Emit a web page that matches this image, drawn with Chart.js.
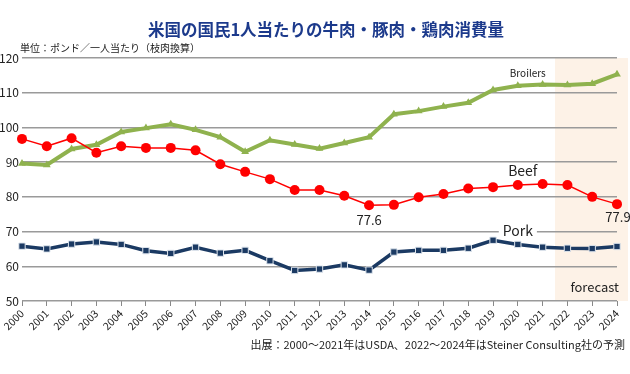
<!DOCTYPE html>
<html>
<head>
<meta charset="utf-8">
<script src="https://cdn.jsdelivr.net/npm/chart.js@4"></script>
<style>
  html,body{margin:0;padding:0;background:#fff;}
  #wrap{position:relative;width:630px;height:374px;overflow:hidden;font-family:"Noto Sans CJK JP","Noto Sans",sans-serif;}
  #chart{position:absolute;left:0;top:0;}
  .title{position:absolute;left:0;width:652px;top:17px;text-align:center;font-size:16.5px;font-weight:700;color:#1c3a8c;}
  .unit{position:absolute;left:20px;top:40px;font-size:10px;color:#222;}
  .src{position:absolute;right:5px;top:336px;font-size:11px;color:#222;}
</style>
</head>
<body>
<div id="wrap">
  <canvas id="chart" width="630" height="374"></canvas>
  <div class="title">米国の国民1人当たりの牛肉・豚肉・鶏肉消費量</div>
  <div class="unit">単位：ポンド／一人当たり（枝肉換算）</div>
  <div class="src">出展：2000～2021年はUSDA、2022～2024年はSteiner Consulting社の予測</div>
</div>
<script>
const years = ['2000','2001','2002','2003','2004','2005','2006','2007','2008','2009','2010','2011','2012',
  '2013','2014','2015','2016','2017','2018','2019','2020','2021','2022','2023','2024'];
const broilers = [89.6,89.2,93.8,95.0,98.7,99.8,100.9,99.3,97.2,93.0,96.3,95.1,93.9,
  95.5,97.2,103.8,104.7,106.0,107.1,110.8,112.0,112.4,112.2,112.6,115.3];
const beef = [96.7,94.6,96.9,92.7,94.6,94.1,94.1,93.4,89.4,87.2,85.1,82.0,82.0,
  80.3,77.6,77.7,79.9,80.8,82.4,82.8,83.4,83.7,83.4,80.0,77.9];
const pork = [65.8,65.0,66.4,67.0,66.3,64.5,63.7,65.5,63.8,64.6,61.6,58.8,59.2,
  60.4,58.9,64.1,64.6,64.6,65.2,67.5,66.3,65.5,65.2,65.1,65.7];
const yTicks = [50,60,70,80,90,100,110,120];
const forecastFrom = '2022';

const FONT = '"Noto Sans CJK JP","Noto Sans",sans-serif';

// forecast background, behind grid
const shadePlugin = {
  id:'shade',
  beforeDraw(chart){
    const {ctx, chartArea, scales:{x}} = chart;
    const i = years.indexOf(forecastFrom);
    const left = (x.getPixelForValue(i-1) + x.getPixelForValue(i)) / 2;
    ctx.save();
    ctx.fillStyle = '#fdf2e7';
    ctx.fillRect(left, chartArea.top, chart.width - 2 - left, chartArea.bottom - chartArea.top);
    ctx.restore();
  }
};

// series names and value notes
const notesPlugin = {
  id:'notes',
  afterDatasetsDraw(chart){
    const {ctx, scales:{x,y}} = chart;
    ctx.save();
    ctx.fillStyle = '#222';
    ctx.textAlign = 'center';
    ctx.textBaseline = 'middle';

    ctx.font = '10px ' + FONT;
    ctx.fillText('Broilers', x.getPixelForValue(20.4), y.getPixelForValue(115.6));

    ctx.font = '14px ' + FONT;
    ctx.fillText('Beef', x.getPixelForValue(20.2), y.getPixelForValue(87.5));

    // pork label sits on the 70 gridline
    const px = x.getPixelForValue(20), py = y.getPixelForValue(70) - 1;
    const w = ctx.measureText('Pork').width + 8;
    ctx.fillStyle = '#fff';
    ctx.fillRect(px - w/2, py - 9, w, 16);
    ctx.fillStyle = '#222';
    ctx.fillText('Pork', px, py);

    ctx.font = '13px ' + FONT;
    const i14 = years.indexOf('2014');
    ctx.fillText(String(beef[i14]), x.getPixelForValue(i14), y.getPixelForValue(beef[i14]) + 15);
    const last = years.length - 1;
    ctx.fillText(String(beef[last]), x.getPixelForValue(last) + 1, y.getPixelForValue(beef[last]) + 13);

    ctx.fillText('forecast', x.getPixelForValue(23.1), y.getPixelForValue(54));
    ctx.restore();
  }
};

new Chart(document.getElementById('chart'), {
  type:'line',
  data:{
    labels: years,
    datasets:[
      {label:'Pork', data:pork, borderColor:'#1b3a63', backgroundColor:'#1b3a63', borderWidth:3.5,
       pointStyle:'rect', pointRadius:4.5, pointBorderColor:'#dfe6ee', pointBorderWidth:1, tension:0},
      {label:'Beef', data:beef, borderColor:'#ff0000', backgroundColor:'#ff0000', borderWidth:1.5,
       pointStyle:'circle', pointRadius:5, pointBorderWidth:0, tension:0},
      {label:'Broilers', data:broilers, borderColor:'#8fb24e', backgroundColor:'#8fb24e', borderWidth:4,
       pointStyle:'triangle', pointRadius:4.5, pointBorderWidth:0, tension:0}
    ]
  },
  options:{
    responsive:false,
    animation:false,
    layout:{padding:{left:0, right:13, top:58, bottom:0}},
    plugins:{legend:{display:false}, tooltip:{enabled:false}},
    scales:{
      x:{
        offset:false,
        grid:{drawOnChartArea:false, drawTicks:true, tickLength:5, color:'#888', lineWidth:1},
        border:{display:false},
        ticks:{color:'#222', font:{size:10.5, family:FONT}, maxRotation:45, minRotation:45, autoSkip:false, padding:1},
        afterFit(s){ s.height = 73; }
      },
      y:{
        min:50, max:120,
        afterBuildTicks(s){ s.ticks = yTicks.map(v => ({value:v})); },
        grid:{color:'#9a9a9a', lineWidth:1.5, drawTicks:false},
        border:{display:false},
        ticks:{color:'#222', font:{size:12, family:FONT}, padding:3},
        afterFit(s){ s.width = 22; }
      }
    }
  },
  plugins:[shadePlugin, notesPlugin]
});
</script>
</body>
</html>
